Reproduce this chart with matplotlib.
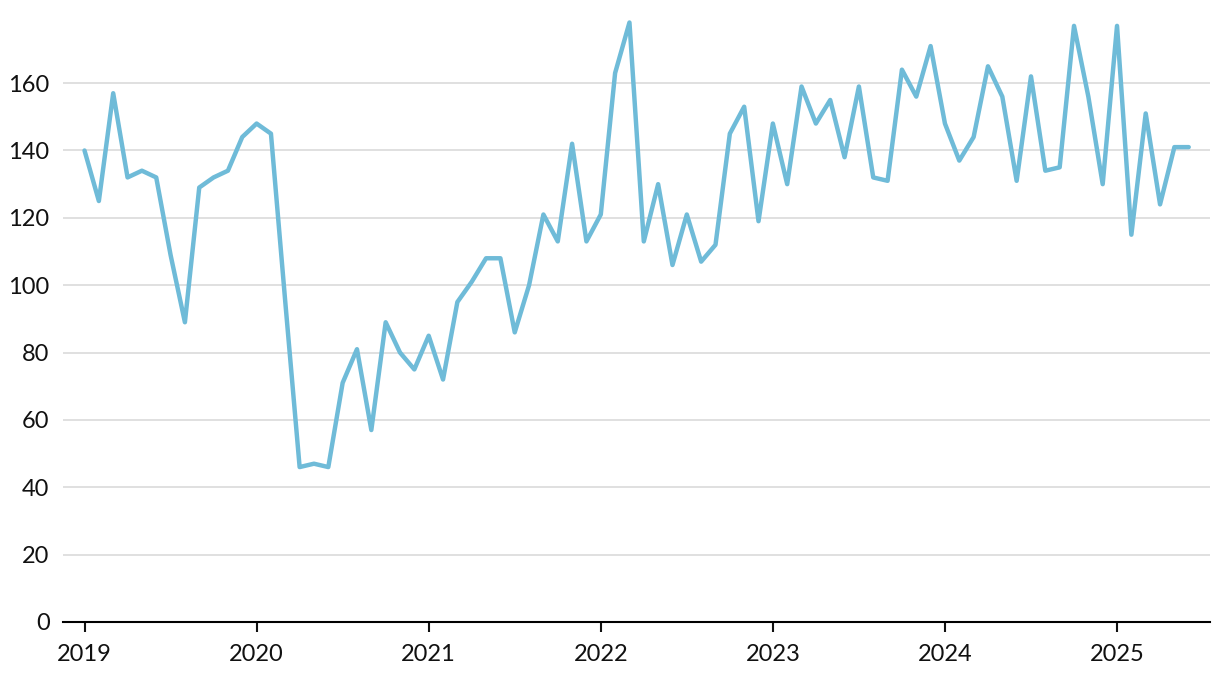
import numpy as np
import matplotlib.pyplot as plt

plt.rcParams['font.family'] = ['Lato', 'DejaVu Sans']

# monthly values, Jan 2019 .. Jun 2025
values_2019 = [140, 125, 157, 132, 134, 132, 109, 89, 129, 132, 134, 144]
values_2020 = [148, 145, 95, 46, 47, 46, 71, 81, 57, 89, 80, 75]
values_2021 = [85, 72, 95, 101, 108, 108, 86, 100, 121, 113, 142, 113]
values_2022 = [121, 163, 178, 113, 130, 106, 121, 107, 112, 145, 153, 119]
values_2023 = [148, 130, 159, 148, 155, 138, 159, 132, 131, 164, 156, 171]
values_2024 = [148, 137, 144, 165, 156, 131, 162, 134, 135, 177, 156, 130]
values_2025 = [177, 115, 151, 124, 141, 141]

years = ["2019", "2020", "2021", "2022", "2023", "2024", "2025"]
y_ticks = [0, 20, 40, 60, 80, 100, 120, 140, 160]

values = (values_2019 + values_2020 + values_2021 + values_2022
          + values_2023 + values_2024 + values_2025)
x = np.arange(len(values))

fig = plt.figure(figsize=(12.2, 6.78), dpi=100)
ax = fig.add_axes([0.052, 0.0826, 0.94, 0.914])

ax.plot(x, values, color="#6fbbd8", linewidth=3.2,
        solid_joinstyle="round", solid_capstyle="round", zorder=3)

ax.set_ylim(0, 184)
ax.set_xlim(-1.47, 78.5)
ax.set_yticks(y_ticks)
ax.set_yticklabels([str(v) for v in y_ticks], fontsize=17)
ax.set_xticks(np.arange(len(years)) * 12)
ax.set_xticklabels(years, fontsize=17)

ax.grid(axis="y", color="#dddddd", linewidth=1.3)
ax.set_axisbelow(True)
for s in ["top", "right", "left"]:
    ax.spines[s].set_visible(False)
ax.spines["bottom"].set_linewidth(1.5)
ax.spines["bottom"].set_color("black")
ax.tick_params(axis="y", length=0, pad=10, colors="#111111")
ax.tick_params(axis="x", length=7, width=1.5, pad=9, colors="#111111")

plt.savefig("out.png", dpi=100)
plt.close()
